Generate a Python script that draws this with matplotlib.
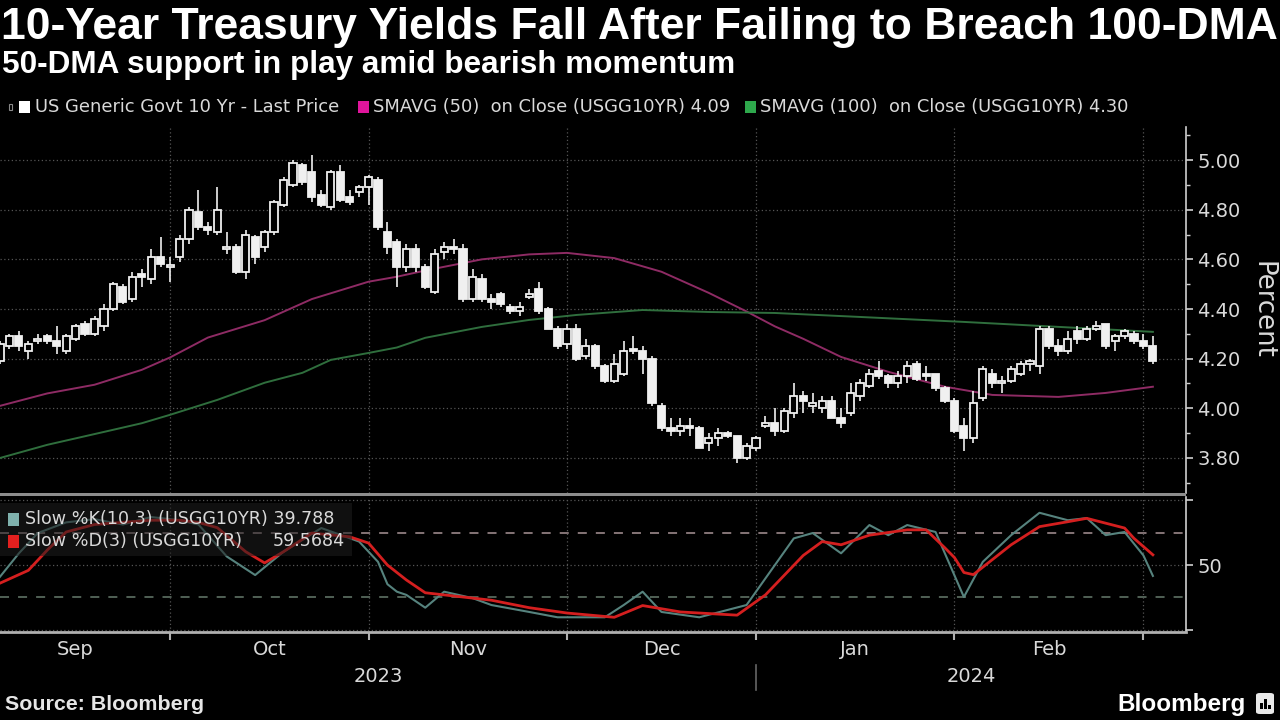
import numpy as np
import pandas as pd
import matplotlib
matplotlib.use('Agg')
import matplotlib.pyplot as plt
from matplotlib.patches import Rectangle, FancyBboxPatch

# ---- data -------------------------------------------------------------
holidays = ['2023-09-04', '2023-10-09', '2023-11-23', '2023-12-25',
            '2024-01-01', '2024-01-15', '2024-02-19']
dates = pd.bdate_range('2023-09-01', '2024-03-01')
dates = dates[~dates.isin(pd.to_datetime(holidays))]

opens = [4.10, 4.19, 4.25, 4.29, 4.23, 4.27, 4.29, 4.27, 4.23, 4.28, 4.34, 4.30, 4.33, 4.40, 4.49, 4.44, 4.54, 4.52, 4.61, 4.57,
         4.61, 4.68, 4.79, 4.73, 4.71, 4.64, 4.65, 4.55, 4.69, 4.65, 4.71, 4.82, 4.90, 4.98, 4.95, 4.86, 4.81, 4.95, 4.85, 4.87, 4.89,
         4.92, 4.71, 4.67, 4.57, 4.64, 4.57, 4.47, 4.63, 4.65, 4.64, 4.44, 4.52, 4.44, 4.46, 4.41, 4.39, 4.45, 4.48, 4.40, 4.32, 4.26,
         4.32, 4.21, 4.25, 4.17, 4.11, 4.14, 4.24, 4.23, 4.20, 4.01, 3.92, 3.91, 3.93, 3.92, 3.86, 3.88, 3.90, 3.89, 3.80, 3.84,
         3.93, 3.94, 3.91, 3.98, 4.05, 4.01, 4.00, 4.03, 3.96, 3.98, 4.05, 4.09, 4.15, 4.13, 4.10, 4.13, 4.18, 4.14, 4.14, 4.08, 4.03,
         3.93, 3.88, 4.04, 4.14, 4.10, 4.11, 4.14, 4.18, 4.17, 4.32, 4.25, 4.23, 4.31, 4.28, 4.32, 4.34, 4.27, 4.29, 4.30, 4.27,
         4.25]
highs = [4.20, 4.27, 4.30, 4.31, 4.27, 4.30, 4.30, 4.33, 4.30, 4.34, 4.35, 4.37, 4.42, 4.51, 4.50, 4.55, 4.56, 4.64, 4.69, 4.61,
         4.70, 4.81, 4.88, 4.75, 4.89, 4.71, 4.66, 4.72, 4.70, 4.72, 4.84, 4.93, 5.00, 4.99, 5.02, 4.88, 4.96, 4.98, 4.88, 4.90, 4.94,
         4.93, 4.75, 4.68, 4.66, 4.66, 4.58, 4.64, 4.67, 4.68, 4.66, 4.56, 4.54, 4.46, 4.47, 4.42, 4.43, 4.48, 4.51, 4.41, 4.33, 4.34,
         4.34, 4.28, 4.26, 4.18, 4.22, 4.27, 4.29, 4.25, 4.21, 4.02, 3.96, 3.96, 3.96, 3.93, 3.90, 3.92, 3.91, 3.89, 3.86, 3.89,
         3.97, 4.00, 4.00, 4.10, 4.07, 4.06, 4.05, 4.05, 4.00, 4.10, 4.12, 4.16, 4.19, 4.14, 4.15, 4.19, 4.19, 4.17, 4.14, 4.09, 4.04,
         3.96, 4.07, 4.17, 4.16, 4.13, 4.17, 4.19, 4.20, 4.33, 4.33, 4.28, 4.31, 4.33, 4.33, 4.35, 4.34, 4.30, 4.32, 4.31, 4.30,
         4.29]
lows = [4.06, 4.18, 4.24, 4.23, 4.20, 4.26, 4.26, 4.22, 4.22, 4.27, 4.29, 4.29, 4.31, 4.39, 4.42, 4.43, 4.49, 4.50, 4.57, 4.51,
        4.59, 4.66, 4.72, 4.70, 4.70, 4.62, 4.54, 4.52, 4.58, 4.63, 4.70, 4.81, 4.89, 4.90, 4.83, 4.81, 4.80, 4.83, 4.82, 4.85, 4.82,
        4.72, 4.62, 4.49, 4.55, 4.55, 4.48, 4.46, 4.60, 4.62, 4.43, 4.43, 4.43, 4.40, 4.41, 4.38, 4.37, 4.44, 4.38, 4.32, 4.24, 4.24,
        4.19, 4.20, 4.16, 4.10, 4.10, 4.13, 4.22, 4.14, 4.01, 3.91, 3.89, 3.89, 3.89, 3.84, 3.83, 3.85, 3.88, 3.78, 3.79, 3.83,
        3.92, 3.89, 3.90, 3.96, 3.98, 3.98, 3.98, 3.96, 3.92, 3.97, 4.03, 4.08, 4.12, 4.08, 4.08, 4.10, 4.11, 4.11, 4.07, 4.02, 3.90,
        3.83, 3.86, 4.03, 4.08, 4.06, 4.10, 4.13, 4.15, 4.14, 4.24, 4.21, 4.22, 4.26, 4.27, 4.31, 4.24, 4.23, 4.28, 4.26, 4.24,
        4.18]
closes = [4.18, 4.26, 4.29, 4.25, 4.26, 4.28, 4.27, 4.25, 4.29, 4.33, 4.30, 4.36, 4.40, 4.50, 4.43, 4.53, 4.53, 4.61, 4.58, 4.57,
          4.68, 4.80, 4.73, 4.72, 4.80, 4.65, 4.55, 4.70, 4.61, 4.71, 4.83, 4.92, 4.99, 4.91, 4.85, 4.82, 4.95, 4.84, 4.83, 4.89, 4.93,
          4.73, 4.65, 4.57, 4.64, 4.57, 4.49, 4.62, 4.65, 4.64, 4.44, 4.53, 4.44, 4.43, 4.42, 4.39, 4.41, 4.46, 4.39, 4.32, 4.25, 4.32,
          4.20, 4.25, 4.17, 4.11, 4.18, 4.23, 4.23, 4.20, 4.02, 3.92, 3.91, 3.93, 3.92, 3.84, 3.88, 3.90, 3.89, 3.80, 3.85, 3.88,
          3.94, 3.91, 3.99, 4.05, 4.03, 4.02, 4.03, 3.96, 3.94, 4.06, 4.10, 4.14, 4.13, 4.10, 4.13, 4.17, 4.12, 4.13, 4.08, 4.03, 3.91,
          3.88, 4.02, 4.16, 4.10, 4.11, 4.16, 4.18, 4.19, 4.32, 4.25, 4.23, 4.28, 4.28, 4.32, 4.33, 4.25, 4.29, 4.31, 4.27, 4.25,
          4.19]

ma50_dates = ['2023-09-05', '2023-09-12', '2023-09-19', '2023-09-26', '2023-09-29', '2023-10-05', '2023-10-16',
              '2023-10-23', '2023-10-31', '2023-11-03', '2023-11-08', '2023-11-16', '2023-11-24', '2023-11-30',
              '2023-12-07', '2023-12-14', '2023-12-21', '2023-12-28', '2024-01-03', '2024-01-08', '2024-01-12',
              '2024-01-22', '2024-01-30', '2024-02-06', '2024-02-15', '2024-02-23', '2024-03-01']
ma50_vals = [4.01, 4.06, 4.095, 4.155, 4.205, 4.285, 4.355, 4.44, 4.51, 4.53, 4.555, 4.60, 4.62, 4.626,
             4.605, 4.55, 4.465, 4.39, 4.33, 4.28, 4.207, 4.147, 4.087, 4.054, 4.046, 4.062, 4.087]

ma100_dates = ['2023-09-05', '2023-09-12', '2023-09-20', '2023-09-26', '2023-09-29', '2023-10-06', '2023-10-16',
               '2023-10-20', '2023-10-25', '2023-10-31', '2023-11-03', '2023-11-08', '2023-11-16', '2023-11-24',
               '2023-12-01', '2023-12-12', '2023-12-21', '2024-01-03', '2024-01-17', '2024-02-01', '2024-02-15',
               '2024-03-01']
ma100_vals = [3.80, 3.853, 3.905, 3.94, 3.974, 4.034, 4.103, 4.143, 4.195, 4.223, 4.245, 4.284, 4.328, 4.356,
              4.376, 4.396, 4.388, 4.384, 4.368, 4.348, 4.328, 4.308]

k_dates = ['2023-09-05', '2023-09-07', '2023-09-11', '2023-09-14', '2023-09-19', '2023-09-22', '2023-09-27',
           '2023-10-02', '2023-10-04', '2023-10-10', '2023-10-13', '2023-10-18', '2023-10-24', '2023-10-30',
           '2023-11-01', '2023-11-02', '2023-11-03', '2023-11-06', '2023-11-08', '2023-11-10', '2023-11-15',
           '2023-11-17', '2023-11-24', '2023-11-29', '2023-12-06', '2023-12-08', '2023-12-12', '2023-12-14',
           '2023-12-20', '2023-12-28', '2024-01-03', '2024-01-05', '2024-01-09', '2024-01-12', '2024-01-18',
           '2024-01-22', '2024-01-24', '2024-01-29', '2024-02-01', '2024-02-05', '2024-02-08', '2024-02-13',
           '2024-02-16', '2024-02-21', '2024-02-23', '2024-02-27', '2024-02-29', '2024-03-01']
k_vals = [39, 61, 80, 90, 93, 88, 95, 92, 88, 58, 40.6, 62.5, 84.7, 72, 53, 32, 25, 22, 10, 25, 19, 12.5, 6, 1,
          1, 12.5, 25, 6, 1, 12.5, 50, 75, 80, 61, 87.5, 78, 87.5, 81, 20, 53, 78, 99, 92, 94, 78, 81, 59, 39.788]

d_dates = ['2023-09-05', '2023-09-08', '2023-09-12', '2023-09-14', '2023-09-19', '2023-09-22', '2023-09-27',
           '2023-10-02', '2023-10-04', '2023-10-06', '2023-10-12', '2023-10-16', '2023-10-18', '2023-10-23',
           '2023-10-27', '2023-10-31', '2023-11-02', '2023-11-06', '2023-11-08', '2023-11-10', '2023-11-17',
           '2023-11-24', '2023-11-30', '2023-12-07', '2023-12-12', '2023-12-18', '2023-12-27', '2024-01-02',
           '2024-01-08', '2024-01-10', '2024-01-12', '2024-01-18', '2024-01-24', '2024-01-26', '2024-01-30',
           '2024-01-31', '2024-02-01', '2024-02-02', '2024-02-05', '2024-02-08', '2024-02-13', '2024-02-16',
           '2024-02-21', '2024-02-27', '2024-02-28', '2024-03-01']
d_vals = [33, 45, 64, 81, 88, 90, 92, 92, 90, 85, 62.5, 52, 62.5, 80, 76.5, 70.6, 50, 36, 24, 22, 17, 10, 5, 1,
          12, 6, 3, 22, 59, 72, 69, 78, 83, 83, 66, 57, 43, 41, 48, 69, 86, 90.6, 93.8, 84.7, 75, 59.5684]

title = '10-Year Treasury Yields Fall After Failing to Breach 100-DMA'
subtitle = '50-DMA support in play amid bearish momentum'
legend_top = ['US Generic Govt 10 Yr - Last Price',
              'SMAVG (50)  on Close (USGG10YR) 4.09',
              'SMAVG (100)  on Close (USGG10YR) 4.30']

# ---- style ------------------------------------------------------------
W, H = 1280, 720
BG = 'black'
CANDLE = '#f0f0f0'
TXT = '#d9d9d9'
GRID = '#555555'
MA50_C = '#8e2b64'
MA100_C = '#2f6e3d'
K_C = '#56837e'
D_C = '#d41f1f'
FONT = 'DejaVu Sans'
px = 9.45          # pixels per trading day in the reference


def fx(p):
    return p / W


def fy(p):
    return 1 - p / H


fig = plt.figure(figsize=(12.8, 7.2), dpi=100, facecolor=BG)
renderer = fig.canvas.get_renderer()


def fit(t, target, use_height=False):
    bb = t.get_window_extent(renderer)
    cur = bb.height if use_height else bb.width
    t.set_fontsize(t.get_fontsize() * target / cur)


ax = fig.add_axes([0, fy(493), fx(1186), (493 - 127) / H], facecolor=BG)
ax2 = fig.add_axes([0, fy(632), fx(1186), (632 - 497) / H], facecolor=BG, sharex=ax)

pos = {d: i for i, d in enumerate(dates.strftime('%Y-%m-%d'))}
x = np.arange(len(dates))

# month boundaries (last trading day of each complete month)
month_end = pd.Series(x, index=dates).groupby(dates.to_period('M')).max()
bounds = list(month_end.values[:-1])
months = [p.strftime('%b') for p in month_end.index[:-1]]

x0 = 1.0
x1 = x0 + 1186 / px
ax.set_xlim(x0, x1)

# ---- candles ----------------------------------------------------------
for i, (o, h, l, c) in enumerate(zip(opens, highs, lows, closes)):
    ax.vlines(i, l, h, color=CANDLE, lw=1.2, zorder=3)
    up = c >= o
    ax.add_patch(Rectangle((i - 0.38, min(o, c)), 0.76, max(abs(c - o), 0.006),
                           facecolor=BG if up else CANDLE, edgecolor=CANDLE,
                           lw=1.3, zorder=4))

ax.plot([pos[d] for d in ma50_dates], ma50_vals, color=MA50_C, lw=1.4, zorder=2)
ax.plot([pos[d] for d in ma100_dates], ma100_vals, color=MA100_C, lw=1.4, zorder=2)

ax.set_ylim(3.659, 5.133)
ax.yaxis.tick_right()
ax.set_yticks(np.arange(3.8, 5.01, 0.2))
ax.set_yticks(np.arange(3.7, 5.11, 0.2), minor=True)
ax.set_yticklabels([f'{v:.2f}' for v in np.arange(3.8, 5.01, 0.2)])
ax.tick_params(axis='y', which='major', colors='#cfcfcf', labelcolor=TXT, labelsize=14,
               length=5, width=1.2, pad=3)
ax.tick_params(axis='y', which='minor', colors='#cfcfcf', length=3, width=1)
ax.tick_params(axis='x', bottom=False, labelbottom=False)
for lab in ax.get_yticklabels():
    lab.set_fontfamily(FONT)
ax.grid(axis='y', color=GRID, ls=(0, (1, 2)), lw=0.9)
for b in bounds:
    ax.axvline(b, color=GRID, ls=(0, (1, 2)), lw=0.9, zorder=1)
for s in ['top', 'left', 'bottom']:
    ax.spines[s].set_visible(False)
ax.spines['right'].set_color('#cfcfcf')
ax.spines['right'].set_linewidth(1.2)

yl = fig.text(fx(1263), fy(310), 'Percent', rotation=-90, ha='center', va='center',
              color=TXT, fontsize=15, family=FONT)
fit(yl, 98, use_height=True)

# separator between panels
fig.add_artist(Rectangle((0, fy(496)), fx(1186), 3 / H, transform=fig.transFigure,
                         facecolor='#8c8c8c', edgecolor='none'))

# ---- stochastic panel -------------------------------------------------
ax2.plot([pos[d] for d in k_dates], k_vals, color=K_C, lw=1.5, zorder=3)
ax2.plot([pos[d] for d in d_dates], d_vals, color=D_C, lw=2.0, zorder=4)
ax2.set_ylim(-12.8, 113.8)
ax2.axhline(80, color='#8f7e80', ls=(0, (5, 5)), lw=1.3, zorder=1)
ax2.axhline(20, color='#57695c', ls=(0, (5, 5)), lw=1.3, zorder=1)
for v in [-11, 50, 111]:
    ax2.axhline(v, color=GRID, ls=(0, (1, 2)), lw=0.9, zorder=1)
for b in bounds:
    ax2.axvline(b, color=GRID, ls=(0, (1, 2)), lw=0.9, zorder=1)
ax2.yaxis.tick_right()
ax2.set_yticks([-11, 50, 111])
ax2.set_yticklabels(['', '50', ''])
ax2.tick_params(axis='y', colors='#cfcfcf', labelcolor=TXT, labelsize=14, length=5, width=1.2, pad=3)
ax2.set_xticks(bounds)
ax2.tick_params(axis='x', colors='#b0b0b0', length=6, width=1.5, labelbottom=False)
for lab in ax2.get_yticklabels():
    lab.set_fontfamily(FONT)
for s in ['top', 'left']:
    ax2.spines[s].set_visible(False)
ax2.spines['right'].set_color('#cfcfcf')
ax2.spines['right'].set_linewidth(1.2)
ax2.spines['bottom'].set_color('#b0b0b0')
ax2.spines['bottom'].set_linewidth(2)

# stochastic legend box
fig.add_artist(Rectangle((0, fy(556)), fx(352), 53 / H, transform=fig.transFigure,
                         facecolor='#1e1e1e', edgecolor='none', alpha=0.55, zorder=2))
fig.add_artist(Rectangle((fx(8), fy(526)), fx(11), 13 / H, transform=fig.transFigure,
                         facecolor='#7fb1ad', edgecolor='none', zorder=3))
fig.add_artist(Rectangle((fx(8), fy(548)), fx(11), 13 / H, transform=fig.transFigure,
                         facecolor='#e3201f', edgecolor='none', zorder=3))
tk = fig.text(fx(25), fy(519), 'Slow %K(10,3) (USGG10YR) 39.788', color=TXT,
              ha='left', va='center', fontsize=12, family=FONT, zorder=3)
fit(tk, 308)
fig.text(fx(25), fy(541), 'Slow %D(3) (USGG10YR)', color=TXT, ha='left', va='center',
         fontsize=tk.get_fontsize(), family=FONT, zorder=3)
fig.text(fx(345), fy(541), '59.5684', color=TXT, ha='right', va='center',
         fontsize=tk.get_fontsize(), family=FONT, zorder=3)

# month / year labels
xt = ax2.get_xaxis_transform()
prev = [x[0] - 1] + bounds[:-1]
for name, a, b in zip(months, prev, bounds):
    ax2.text((a + b) / 2, -0.133, name, transform=xt, ha='center', va='center',
             color=TXT, fontsize=14, family=FONT, clip_on=False)
dec_end = bounds[months.index('Dec')]
ax2.text((x0 + dec_end) / 2, -0.333, '2023', transform=xt, ha='center', va='center',
         color=TXT, fontsize=14, family=FONT)
ax2.text((dec_end + x1) / 2, -0.333, '2024', transform=xt, ha='center', va='center',
         color=TXT, fontsize=14, family=FONT)
ax2.plot([dec_end, dec_end], [-0.245, -0.43], transform=xt, color='#666666', lw=1.2, clip_on=False)

# ---- titles and top legend -------------------------------------------
t1 = fig.text(fx(1), fy(28), title, color='white', fontweight='bold', ha='left', va='center',
              fontsize=26, family='Liberation Sans')
fit(t1, 1277)
t2 = fig.text(fx(2), fy(65), subtitle, color='white', fontweight='bold', ha='left', va='center',
              fontsize=17, family='Liberation Sans')
fit(t2, 735)

fig.add_artist(Rectangle((fx(9), fy(110)), fx(3), 6 / H, transform=fig.transFigure,
                         facecolor='none', edgecolor='#888888', lw=0.8))
fig.add_artist(Rectangle((fx(19), fy(113)), fx(11), 12 / H, transform=fig.transFigure,
                         facecolor='white', edgecolor='none'))
fig.add_artist(Rectangle((fx(358), fy(113)), fx(11), 12 / H, transform=fig.transFigure,
                         facecolor='#e0159c', edgecolor='none'))
fig.add_artist(Rectangle((fx(745), fy(113)), fx(11), 12 / H, transform=fig.transFigure,
                         facecolor='#2ea84c', edgecolor='none'))
l1 = fig.text(fx(35), fy(107), legend_top[0], color=TXT, ha='left', va='center',
              fontsize=12, family=FONT)
fit(l1, 303)
fig.text(fx(373), fy(107), legend_top[1], color=TXT, ha='left', va='center',
         fontsize=l1.get_fontsize(), family=FONT)
fig.text(fx(760), fy(107), legend_top[2], color=TXT, ha='left', va='center',
         fontsize=l1.get_fontsize(), family=FONT)

# ---- footer -----------------------------------------------------------
src = fig.text(fx(5), fy(705), 'Source: Bloomberg', color='#e6e6e6', fontweight='bold',
               ha='left', va='center', fontsize=13, family='Liberation Sans')
fit(src, 198)
bb = fig.text(fx(1246), fy(704), 'Bloomberg', color='white', fontweight='bold',
              ha='right', va='center', fontsize=17, family='Liberation Sans')
fit(bb, 128)
fig.add_artist(FancyBboxPatch((fx(1256), fy(714)), fx(18), 21 / H, transform=fig.transFigure,
                              boxstyle='round,pad=0,rounding_size=0.003',
                              facecolor='#e8e8e8', edgecolor='none'))
for bx, bh in [(1260, 6), (1264, 10), (1268, 4)]:
    fig.add_artist(Rectangle((fx(bx), fy(709)), fx(2.5), bh / H, transform=fig.transFigure,
                             facecolor='black', edgecolor='none'))

fig.savefig('out.png', dpi=100, facecolor=BG)
